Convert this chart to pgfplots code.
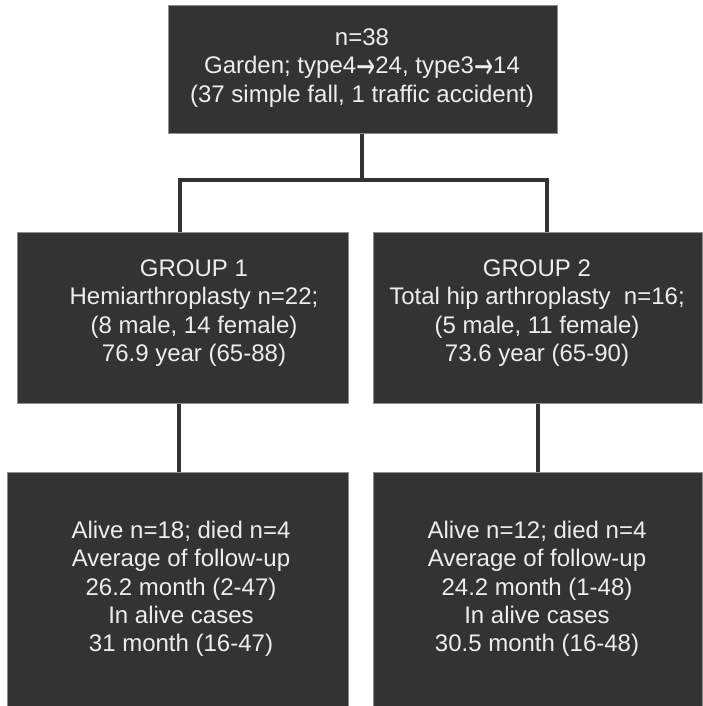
\documentclass[border=0pt]{standalone}
\usepackage{pgfplots}
\pgfplotsset{compat=1.18}
\usepackage{fontspec}
\setmainfont{Liberation Sans}
\newfontfamily\arrfont{DejaVu Sans}
\newcommand{\ar}{{\arrfont\smash{\raisebox{-0.18em}{\scalebox{0.95}[1.5]{→}}}}}
\definecolor{boxfill}{HTML}{333333}
\definecolor{boxedge}{HTML}{8E8E8E}
\definecolor{txt}{HTML}{EDEDED}
\begin{document}
\begin{tikzpicture}[
  conn/.style={draw=boxfill, line width=3.2pt, mark=none, line join=miter},
  box/.style={fill=boxfill, draw=boxedge, line width=0.8pt, mark=none},
  lbl/.style={text=txt, align=center, font=\fontsize{24}{28.3}\selectfont},
]
\begin{axis}[
  width=702pt, height=706pt, scale only axis,
  xmin=0, xmax=702, ymin=0, ymax=706, y dir=reverse,
  hide axis, clip=false,
]
% connectors
\addplot[conn] coordinates {(362,133) (362,181)};
\addplot[conn] coordinates {(180,232) (180,180) (547,180) (547,232)};
\addplot[conn] coordinates {(179,403) (179,472)};
\addplot[conn] coordinates {(538,403) (538,472)};

% boxes
\addplot[box] coordinates {(168,5) (557,5) (557,133) (168,133)} -- cycle;
\addplot[box] coordinates {(17,232) (348,232) (348,403) (17,403)} -- cycle;
\addplot[box] coordinates {(373,232) (702,232) (702,403) (373,403)} -- cycle;
\addplot[box] coordinates {(7,472) (348,472) (348,706) (7,706)} -- cycle;
\addplot[box] coordinates {(373,472) (702,472) (702,706) (373,706)} -- cycle;

\node[lbl] at (axis cs:362,68) {n=38\\Garden; type4\ar24, type3\ar14\\(37 simple fall, 1 traffic accident)};
\node[lbl] at (axis cs:194,313) {GROUP 1\\Hemiarthroplasty n=22;\\(8 male, 14 female)\\76.9 year (65-88)};
\node[lbl] at (axis cs:537,313) {GROUP 2\\Total hip arthroplasty\ \ n=16;\\(5 male, 11 female)\\73.6 year (65-90)};
\node[lbl] at (axis cs:181,589) {Alive n=18; died n=4\\Average of follow-up\\26.2 month (2-47)\\In alive cases\\31 month (16-47)};
\node[lbl] at (axis cs:537,589) {Alive n=12; died n=4\\Average of follow-up\\24.2 month (1-48)\\In alive cases\\30.5 month (16-48)};
\end{axis}
\pgfresetboundingbox
\path (current axis.south west) rectangle (current axis.north east);
\end{tikzpicture}
\end{document}
